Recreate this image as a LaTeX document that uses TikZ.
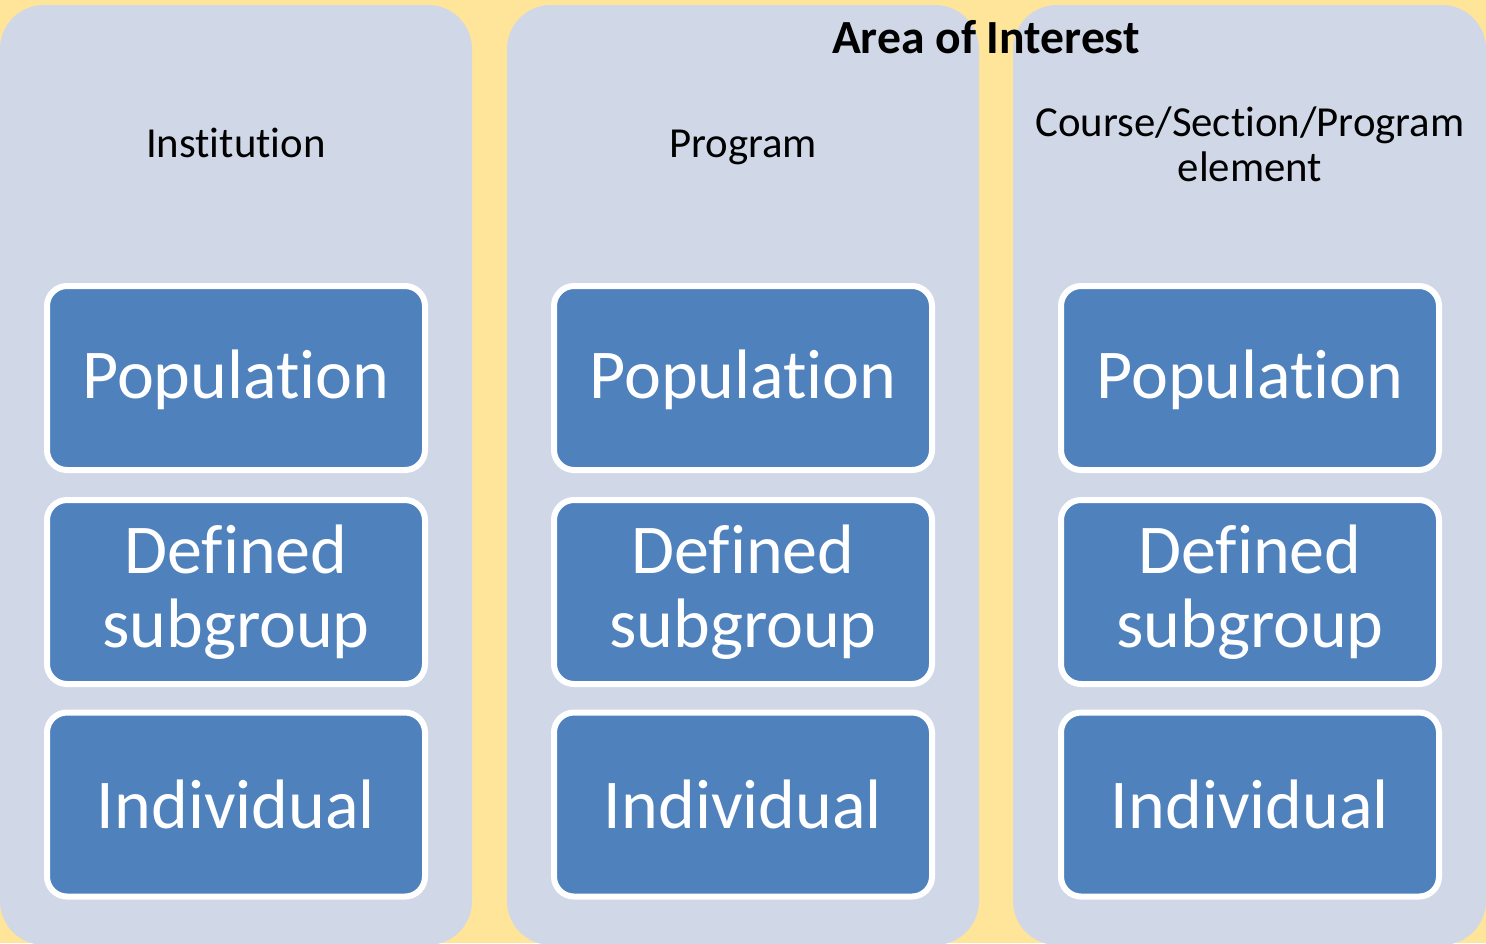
\documentclass[tikz,border=0pt]{standalone}
\usepackage{fontspec}
\setmainfont{Carlito}[RawFeature={-liga}]
\definecolor{bgyellow}{RGB}{255,229,153}
\definecolor{colfill}{RGB}{208,216,232}
\definecolor{boxblue}{RGB}{79,129,189}
\begin{document}
\begin{tikzpicture}[x=0.5pt,y=-0.5pt,
  colbox/.style={fill=colfill, rounded corners=22pt},
  itembox/.style={draw=white, line width=3pt, fill=boxblue, rounded corners=10pt,
    minimum width=189pt, minimum height=92pt, text=white,
    font=\fontsize{35}{37}\selectfont, align=center, inner sep=0pt},
  oneline/.style={text height=25pt, text depth=5pt},
  colhead/.style={font=\fontsize{21.4}{22.5}\selectfont, align=center, text=black, inner sep=0pt},
  titletext/.style={font=\bfseries\fontsize{23.8}{28}\selectfont, text=black, inner sep=0pt}
]
\fill[bgyellow] (0,0) rectangle (1486,943);
\useasboundingbox (0,0) rectangle (1486,943);
\begin{scope}
  \clip (0,0) rectangle (1486,943);
  \fill[colbox] (0,5) rectangle (472,945);
  \fill[colbox] (507,5) rectangle (979,945);
  \fill[colbox] (1013,5) rectangle (1486,945);
\end{scope}

\node[titletext, anchor=base] (title) at (986,53) {Area of Interest};

\node[colhead, anchor=base] (h1) at (236,157) {Institution};
\node[colhead, anchor=base] (h2) at (743,157) {Program};
\node[colhead] (h3) at (1250,144) {Course/Section/Program\\element};

\foreach \cx/\c in {236/1, 743/2, 1250/3}{
  \node[itembox, oneline] (pop\c) at (\cx,378) {Population};
  \node[itembox] (sub\c) at (\cx,592) {Defined\\subgroup};
  \node[itembox] (ind\c) at (\cx,804.5) {Individual};
}
\end{tikzpicture}
\end{document}
